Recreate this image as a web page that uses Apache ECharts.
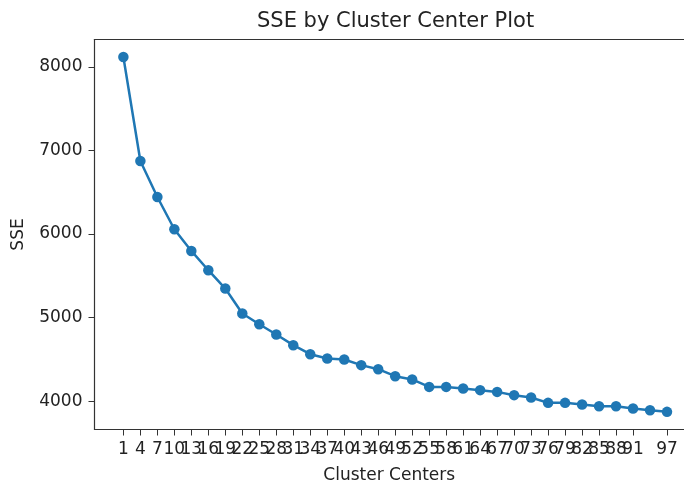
<!DOCTYPE html>
<html>
<head>
<meta charset="utf-8">
<script src="https://cdn.jsdelivr.net/npm/echarts@6/dist/echarts.min.js"></script>
<style>
  html, body { margin: 0; padding: 0; background: #fff; }
  #chart { width: 684px; height: 483px; }
</style>
</head>
<body>
<div id="chart"></div>
<script>
// data
const clusterCenters = [1, 4, 7, 10, 13, 16, 19, 22, 25, 28, 31, 34, 37, 40, 43, 46, 49,
  52, 55, 58, 61, 64, 67, 70, 73, 76, 79, 82, 85, 88, 91, 94, 97]
const sseValues = [8118, 6874, 6443, 6057, 5798, 5567, 5348, 5049, 4921, 4798, 4670, 4562,
  4511, 4499, 4431, 4383, 4299, 4260, 4171, 4171, 4152, 4132, 4111, 4072, 4044, 3980,
  3980, 3961, 3940, 3940, 3913, 3892, 3872]
const yTicks = [4000, 5000, 6000, 7000, 8000]

const textColor = '#222'
const spineColor = '#333'
const font = 'DejaVu Sans'

const dom = echarts.init(document.getElementById('chart'))
const option = {
  animation: false,
  title: {
    text: 'SSE by Cluster Center Plot',
    left: 252,
    top: 6,
    textStyle: { fontFamily: font, fontSize: 21, fontWeight: 'normal', color: textColor }
  },
  grid: {
    left: 94.5,
    top: 39.5,
    right: 0,
    bottom: 53.5,
    containLabel: false,
    outerBoundsMode: 'none'
  },
  xAxis: [
    {
      type: 'value',
      min: -4.1,
      max: 100,
      name: 'Cluster Centers',
      nameLocation: 'middle',
      nameGap: 38,
      nameTextStyle: { fontFamily: font, fontSize: 17, color: textColor },
      splitLine: { show: false },
      axisLine: { show: true, onZero: false, lineStyle: { color: spineColor, width: 1.2 } },
      axisTick: { show: true, customValues: clusterCenters, length: 6, lineStyle: { color: spineColor } },
      axisLabel: {
        customValues: clusterCenters,
        showMaxLabel: true,
        hideOverlap: false,
        margin: 12,
        fontFamily: font,
        fontSize: 17,
        color: textColor
      }
    },
    {
      // top spine only
      type: 'value',
      position: 'top',
      min: -4.1,
      max: 100,
      splitLine: { show: false },
      axisLine: { show: true, onZero: false, lineStyle: { color: spineColor, width: 1.2 } },
      axisTick: { show: false },
      axisLabel: { show: false }
    }
  ],
  yAxis: {
    type: 'value',
    min: 3661,
    max: 8328,
    name: 'SSE',
    nameLocation: 'middle',
    nameGap: 67,
    nameTextStyle: { fontFamily: font, fontSize: 17, color: textColor },
    splitLine: { show: false },
    axisLine: { show: true, onZero: false, lineStyle: { color: spineColor, width: 1.2 } },
    axisTick: { show: true, customValues: yTicks, length: 6, lineStyle: { color: spineColor } },
    axisLabel: {
      customValues: yTicks,
      margin: 12,
      formatter: (v) => String(v),
      fontFamily: font,
      fontSize: 17,
      color: textColor
    }
  },
  series: [
    {
      type: 'line',
      xAxisIndex: 0,
      data: clusterCenters.map((c, i) => [c, sseValues[i]]),
      symbol: 'circle',
      symbolSize: 10.5,
      showAllSymbol: true,
      itemStyle: { color: '#1f77b4' },
      lineStyle: { color: '#1f77b4', width: 2.5 }
    }
  ]
}
dom.setOption(option)
</script>
</body>
</html>
